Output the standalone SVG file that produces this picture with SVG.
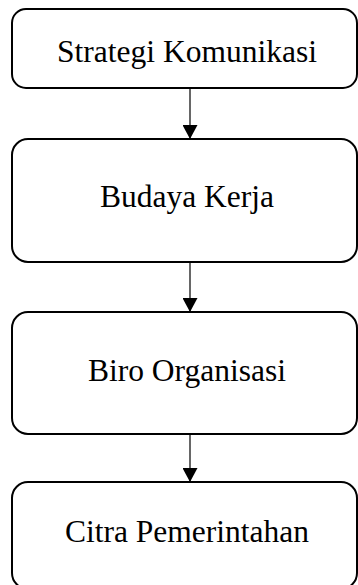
<svg xmlns="http://www.w3.org/2000/svg" width="358" height="585" viewBox="0 0 358 585">
<style>
.box{fill:#fff;stroke:#000;stroke-width:2}
.lbl{font-family:"Liberation Serif","Times New Roman",serif;font-size:31.5px;fill:#000;text-anchor:middle}
.conn{stroke:#000;stroke-width:1.2;fill:none}
</style>
<defs>
<marker id="ah" markerWidth="15" markerHeight="15" refX="14" refY="7.5" orient="auto" markerUnits="userSpaceOnUse">
<path d="M0,0 L14,7.5 L0,15 Z" fill="#000"/>
</marker>
</defs>
<rect width="358" height="585" fill="#fff"/>
<g id="n1"><rect class="box" x="12" y="9" width="345" height="79" rx="14"/><text class="lbl" x="187" y="62">Strategi Komunikasi</text></g>
<g id="n2"><rect class="box" x="12" y="139" width="345" height="123" rx="16"/><text class="lbl" x="187" y="207">Budaya Kerja</text></g>
<g id="n3"><rect class="box" x="12" y="312" width="345" height="122" rx="16"/><text class="lbl" x="187" y="381">Biro Organisasi</text></g>
<g id="n4"><rect class="box" x="12" y="482" width="345" height="107" rx="16"/><text class="lbl" x="187" y="542">Citra Pemerintahan</text></g>
<g id="connectors">
<line class="conn" x1="190" y1="88" x2="190" y2="139" marker-end="url(#ah)"/>
<line class="conn" x1="190" y1="262" x2="190" y2="312" marker-end="url(#ah)"/>
<line class="conn" x1="190" y1="434" x2="190" y2="482" marker-end="url(#ah)"/>
</g>
</svg>
